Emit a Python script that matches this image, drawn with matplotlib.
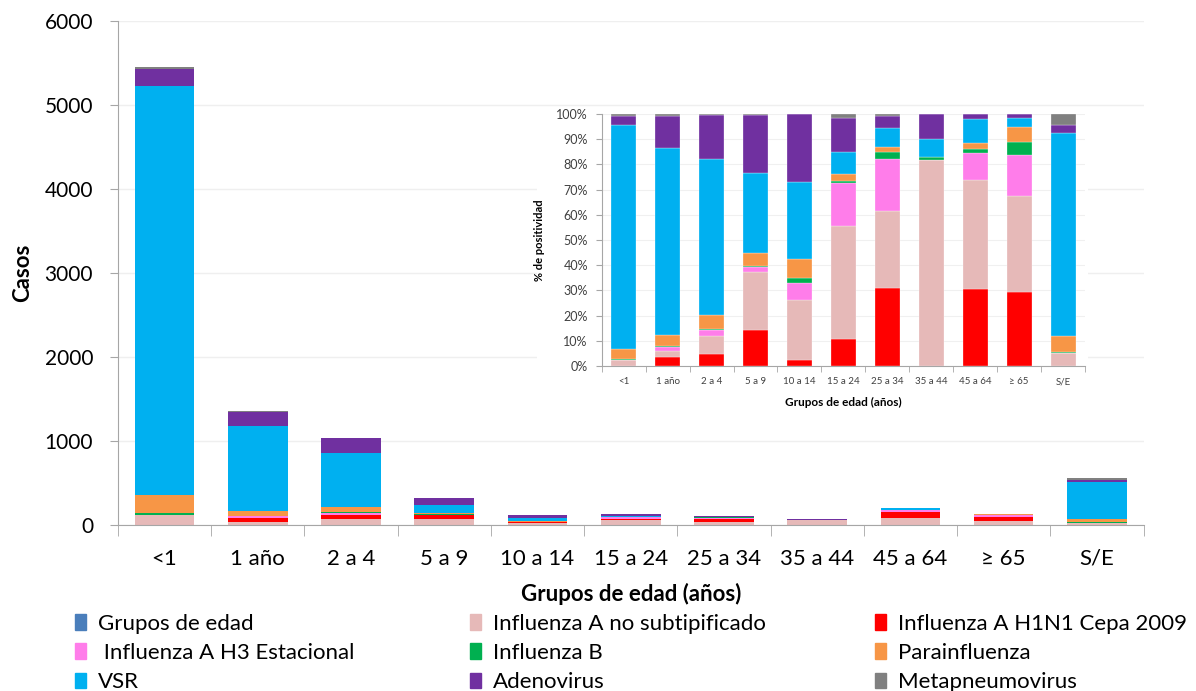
import numpy as np
import matplotlib.pyplot as plt
from matplotlib.patches import Rectangle

plt.rcParams['font.family'] = ['Lato', 'DejaVu Sans']

grupos = ['<1', '1 año', '2 a 4', '5 a 9', '10 a 14', '15 a 24', '25 a 34',
          '35 a 44', '45 a 64', '≥ 65', 'S/E']

# casos por virus y grupo de edad
flu_a_nosub = [120, 33, 76, 72, 28, 59, 33, 58, 89, 52, 28]
h1n1 = [0, 49, 48, 46, 3, 14, 33, 0, 63, 40, 0]
h3 = [0, 20, 24, 7, 8, 22, 22, 0, 22, 22, 0]
flu_b = [22, 5, 4, 1, 2, 1, 3, 1, 3, 7, 4]
parainf = [218, 60, 57, 16, 9, 4, 2, 0, 5, 8, 34]
vsr = [4867, 1007, 647, 102, 36, 11, 8, 5, 20, 5, 451]
adeno = [196, 174, 180, 73, 32, 18, 5, 7, 4, 2, 18]
metap = [35, 9, 4, 1, 0, 2, 1, 0, 0, 0, 25]

colores = {
    'Grupos de edad': '#4A7EBB',
    'Influenza A no subtipificado': '#E6B9B8',
    'Influenza A H1N1 Cepa 2009': '#FF0000',
    ' Influenza A H3 Estacional': '#FF7DEA',
    'Influenza B': '#00B050',
    'Parainfluenza': '#F79646',
    'VSR': '#00B0F0',
    'Adenovirus': '#7030A0',
    'Metapneumovirus': '#808080',
}

series = {
    'Influenza A no subtipificado': flu_a_nosub,
    'Influenza A H1N1 Cepa 2009': h1n1,
    ' Influenza A H3 Estacional': h3,
    'Influenza B': flu_b,
    'Parainfluenza': parainf,
    'VSR': vsr,
    'Adenovirus': adeno,
    'Metapneumovirus': metap,
}
orden_main = list(series.keys())
orden_inset = ['Influenza A H1N1 Cepa 2009', 'Influenza A no subtipificado'] + orden_main[2:]

W, H = 1196, 691
fig = plt.figure(figsize=(W / 100, H / 100), dpi=100)
x = np.arange(len(grupos))
gris = '#A6A6A6'

# ---- grafico principal
ax = fig.add_axes([118 / W, 1 - 525 / H, (1143.5 - 118) / W, (525 - 21) / H])
base = np.zeros(len(grupos))
for nombre in orden_main:
    v = np.array(series[nombre], dtype=float)
    ax.bar(x, v, 0.64, bottom=base, color=colores[nombre], zorder=2)
    base += v

ax.set_xlim(-0.5, len(grupos) - 0.5)
ax.set_ylim(0, 6000)
ax.set_yticks(range(0, 6001, 1000))
ax.yaxis.grid(True, color='#EFEFEF', linewidth=1, zorder=0)
for s in ['top', 'right']:
    ax.spines[s].set_visible(False)
for s in ['left', 'bottom']:
    ax.spines[s].set_color(gris)
ax.set_xticks(x)
ax.set_xticklabels(grupos, fontsize=16)
ax.set_xticks(np.arange(-0.5, len(grupos)), minor=True)
ax.tick_params(axis='x', which='major', length=0, pad=17)
ax.tick_params(axis='x', which='minor', length=8, color=gris, direction='out')
ax.tick_params(axis='y', length=6, color=gris, pad=12, labelsize=15)
ax.set_ylabel('Casos', fontsize=16, fontweight='bold', labelpad=8)
ax.set_xlabel('Grupos de edad (años)', fontsize=16, fontweight='bold', labelpad=10)

# ---- fondo blanco del recuadro
fig.patches.append(Rectangle((537 / W, 1 - 428 / H), (1088 - 537) / W, (428 - 110) / H,
                             transform=fig.transFigure, facecolor='white',
                             edgecolor='none', zorder=1))

# ---- grafico de porcentajes
ins = fig.add_axes([601.7 / W, 1 - 366 / H, (1085 - 601.7) / W, (366 - 114) / H])
ins.set_zorder(2)
totales = sum(np.array(series[n], dtype=float) for n in orden_main)
base = np.zeros(len(grupos))
for nombre in orden_inset:
    p = np.array(series[nombre], dtype=float) / totales
    ins.bar(x, p, 0.57, bottom=base, color=colores[nombre], edgecolor='white',
            linewidth=0.2, zorder=2)
    base += p

ins.set_xlim(-0.5, len(grupos) - 0.5)
ins.set_ylim(0, 1)
ins.set_yticks(np.arange(0, 1.01, 0.1))
ins.set_yticklabels([f'{int(round(t * 100))}%' for t in np.arange(0, 1.01, 0.1)],
                    fontsize=9, color='#404040')
ins.yaxis.grid(True, color='#F0F0F0', linewidth=0.8, zorder=0)
for s in ['top', 'right']:
    ins.spines[s].set_visible(False)
for s in ['left', 'bottom']:
    ins.spines[s].set_color(gris)
ins.set_xticks(x)
ins.set_xticklabels(grupos, fontsize=7, color='#404040')
ins.set_xticks(np.arange(-0.5, len(grupos)), minor=True)
ins.tick_params(axis='x', which='major', length=0, pad=8)
ins.tick_params(axis='x', which='minor', length=4, color=gris)
ins.tick_params(axis='y', length=4, color=gris, pad=6)
ins.set_ylabel('% de positividad', fontsize=8, fontweight='bold', labelpad=8)
ins.set_xlabel('Grupos de edad (años)', fontsize=8.5, fontweight='bold', labelpad=8)

# ---- leyenda en tres columnas
cols = [
    ['Grupos de edad', ' Influenza A H3 Estacional', 'VSR'],
    ['Influenza A no subtipificado', 'Influenza B', 'Adenovirus'],
    ['Influenza A H1N1 Cepa 2009', 'Parainfluenza', 'Metapneumovirus'],
]
xs = [75, 470, 875]
for nombres, xc in zip(cols, xs):
    handles = [Rectangle((0, 0), 1, 1, color=colores[n]) for n in nombres]
    fig.legend(handles, nombres, loc='center left',
               bbox_to_anchor=(xc / W, 1 - 653 / H), frameon=False, fontsize=16,
               handlelength=0.5, handleheight=0.7, handletextpad=0.55,
               labelspacing=0.42, borderpad=0, borderaxespad=0)

fig.savefig('out.png', dpi=100)
